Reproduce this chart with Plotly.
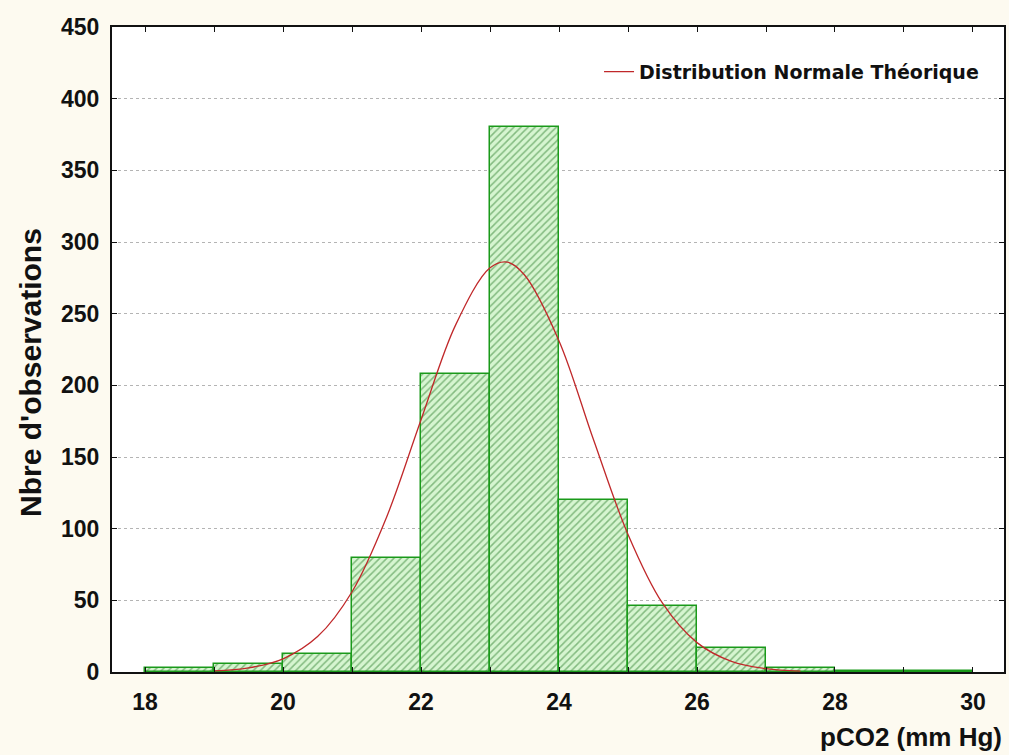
import plotly.graph_objects as go

# Histogram bins (left edges, width 1) and counts
bin_left = [18, 19, 20, 21, 22, 23, 24, 25, 26, 27, 28, 29]
counts = [2.8, 5.5, 12.5, 79.5, 208, 380, 120, 46, 16.5, 2.5, 0.7, 0.7]

# Theoretical normal curve
curve_x = [19.0, 19.5, 20.0, 20.5, 21.0, 21.5, 22.0, 22.5, 23.0, 23.25, 23.5,
           24.0, 24.5, 25.0, 25.5, 26.0, 26.5, 27.0, 27.5]
curve_y = [0.8, 2.9, 9.2, 24.7, 56, 108, 176, 242, 282, 286, 277,
           231, 162, 96, 48, 20.5, 7.4, 2.3, 0.6]

x_ticks = [18, 20, 22, 24, 26, 28, 30]
y_ticks = [0, 50, 100, 150, 200, 250, 300, 350, 400, 450]

FONT = "Liberation Sans, Arial, sans-serif"

fig = go.Figure()
fig.add_trace(go.Bar(
    x=[b + 0.5 for b in bin_left], y=counts, width=1,
    marker=dict(color="#cdf2c8",
                line=dict(color="#1a9a1a", width=1.5),
                pattern=dict(shape="/", fgcolor="#2f7f2f", bgcolor="#d6f5d0",
                             size=5, solidity=0.3)),
    showlegend=False, hoverinfo="skip"))
fig.add_trace(go.Scatter(
    x=curve_x, y=curve_y, mode="lines", line=dict(color="#c0282a", width=1.3, shape="spline"),
    name="Distribution Normale Théorique"))

fig.update_layout(
    width=1009, height=755,
    margin=dict(l=112, r=3, t=27, b=83),
    paper_bgcolor="#fdfaf0", plot_bgcolor="#ffffff",
    font=dict(family=FONT, size=18, color="#111111"),
    bargap=0,
    legend=dict(x=0.546, y=0.96, xanchor="left", yanchor="top",
                bgcolor="rgba(0,0,0,0)", itemwidth=30,
                font=dict(family="DejaVu Sans, sans-serif", size=19, color="#111111", weight="bold")),
    xaxis=dict(range=[17.52, 30.45], tickvals=x_ticks, ticktext=[str(v) for v in x_ticks],
               showgrid=False, zeroline=False, showline=True, linecolor="#111111", linewidth=2,
               mirror="ticks", ticks="inside", ticklen=5, tickcolor="#111111",
               ticklabelstandoff=8,
               minor=dict(dtick=1, tick0=18, ticks="inside", ticklen=5, tickcolor="#111111"),
               tickfont=dict(family=FONT, size=23, weight="bold")),
    yaxis=dict(range=[0, 450], tickvals=y_ticks, ticktext=[str(v) for v in y_ticks],
               showgrid=True, gridcolor="#b4b4b4", griddash="dot", gridwidth=1,
               zeroline=False, showline=True, linecolor="#111111", linewidth=2,
               mirror="ticks", ticks="inside", ticklen=5, tickcolor="#111111",
               ticklabelstandoff=6,
               tickfont=dict(family=FONT, size=23, weight="bold")),
    annotations=[
        dict(text="Nbre d'observations", xref="paper", yref="paper", x=-0.092, y=0.465,
             textangle=-90, showarrow=False, xanchor="center", yanchor="middle",
             font=dict(family=FONT, size=30, weight="bold")),
        dict(text="pCO2 (mm Hg)", xref="paper", yref="paper", x=1.0, y=-0.101,
             showarrow=False, xanchor="right", yanchor="middle",
             font=dict(family=FONT, size=26, weight="bold")),
    ],
)

fig.write_html("out.html")
